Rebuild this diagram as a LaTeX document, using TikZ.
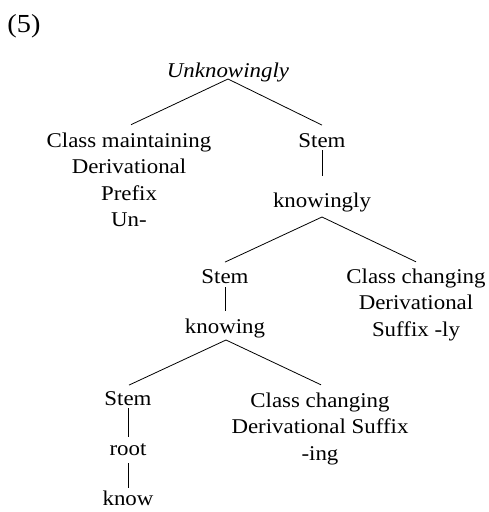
\documentclass[tikz,border=0pt]{standalone}
\usepackage{fontspec}
\setmainfont{Liberation Serif}[FakeStretch=1.09]
\begin{document}
\begin{tikzpicture}[x=1pt,y=-1pt,
  lbl/.style={inner sep=0pt,outer sep=0pt,font=\fontsize{21}{26.5}\selectfont,align=center},
  edge/.style={line width=0.8pt,black}]
\useasboundingbox (0,0) rectangle (489,512);
\node[lbl,anchor=base,font=\fontsize{26}{30}\selectfont] (num) at (24,32) {(5)};
\node[lbl,anchor=base] (top) at (228,77) {\itshape Unknowingly};
\node[lbl,anchor=north] (cm) at (129,132.7) {Class maintaining\\Derivational\\Prefix\\Un-};
\node[lbl,anchor=base] (s1) at (322,147) {Stem};
\node[lbl,anchor=base] (k1) at (322,207) {knowingly};
\node[lbl,anchor=base] (s2) at (225,283) {Stem};
\node[lbl,anchor=north] (cc1) at (416,268.8) {Class changing\\Derivational\\Suffix -ly};
\node[lbl,anchor=base] (k2) at (225,333) {knowing};
\node[lbl,anchor=base] (s3) at (128,405) {Stem};
\node[lbl,anchor=north] (cc2) at (320,392.8) {Class changing\\Derivational Suffix\\-ing};
\node[lbl,anchor=base] (root) at (128,455) {root};
\node[lbl,anchor=base] (know) at (128,505) {know};
\draw[edge] ([yshift=-2pt]top.base) -- ([xshift=2pt,yshift=8pt]cm.north);
\draw[edge] ([yshift=-2pt]top.base) -- ([yshift=8pt]s1.north);
\draw[edge] ([yshift=-3pt]s1.base) -- ([yshift=16pt]k1.north);
\draw[edge] ([yshift=-10pt]k1.base) -- ([yshift=7pt]s2.north);
\draw[edge] ([yshift=-10pt]k1.base) -- ([yshift=7pt]cc1.north);
\draw[edge] ([yshift=-4pt]s2.base) -- ([yshift=7pt]k2.north);
\draw[edge] ([xshift=1pt,yshift=-7pt]k2.base) -- ([xshift=1pt,yshift=6pt]s3.north);
\draw[edge] ([xshift=1pt,yshift=-7pt]k2.base) -- ([xshift=1pt,yshift=8pt]cc2.north);
\draw[edge] ([yshift=-3pt]s3.base) -- ([yshift=6pt]root.north);
\draw[edge] ([yshift=-8pt]root.base) -- ([yshift=2pt]know.north);
\end{tikzpicture}
\end{document}
